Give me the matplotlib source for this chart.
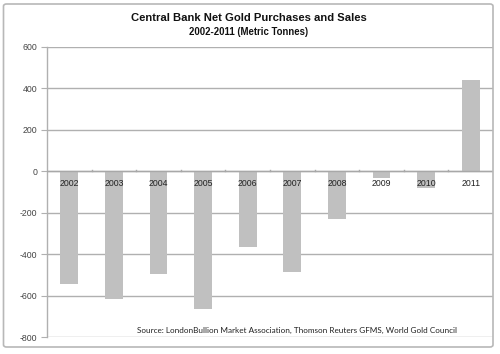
import matplotlib
matplotlib.use("Agg")
import matplotlib.pyplot as plt
from matplotlib.patches import FancyBboxPatch
import numpy as np

years = ["2002", "2003", "2004", "2005", "2006",
         "2007", "2008", "2009", "2010", "2011"]
tonnes = [-545, -617, -495, -662, -365, -484, -232, -33, -80, 440]
yticks = [-800, -600, -400, -200, 0, 200, 400, 600]

W, H = 500, 354
fig = plt.figure(figsize=(5, 3.54), dpi=100)

# outer chart frame
frame = FancyBboxPatch((3.5 / W, 7 / H), 489.5 / W, 343 / H,
                       boxstyle="round,pad=0,rounding_size=0.006",
                       transform=fig.transFigure, fill=False,
                       edgecolor="#b8b8b8", lw=1.2)
fig.patches.append(frame)

ax = fig.add_axes([47 / W, (H - 337.3) / H, (493 - 47) / W, (337.3 - 46.7) / H])
x = np.arange(len(years))
ax.bar(x, tonnes, width=0.4, color="#c0c0c0", zorder=2)
ax.set_xlim(-0.5, len(years) - 0.5)
ax.set_ylim(-800, 600)
ax.set_yticks(yticks)
ax.set_yticklabels([str(v) for v in yticks], fontsize=6.3, color="#444444",
                   family="Liberation Sans")
ax.tick_params(axis="y", length=4, color="#b0b0b0", pad=3)
ax.yaxis.grid(True, color="#b0b0b0", lw=1.0, zorder=1)
ax.set_xticks([])
for s in ["top", "right", "bottom"]:
    ax.spines[s].set_visible(False)
ax.spines["left"].set_color("#b0b0b0")
ax.spines["left"].set_linewidth(1.0)

# category axis at zero
ax.axhline(0, color="#a8a8a8", lw=1.0, zorder=3)
for b in np.arange(0.5, len(years) - 0.5, 1):
    ax.plot([b, b], [0, 8], color="#a8a8a8", lw=1.0, zorder=3)
for xi, yr in zip(x, years):
    ax.text(xi, -58, yr, ha="center", va="center", fontsize=6.3,
            color="#222222", family="Liberation Sans", zorder=4)

fig.text(249 / W, 1 - 18 / H, "Central Bank Net Gold Purchases and Sales",
         ha="center", va="center", fontsize=8.1, fontweight="bold",
         family="Liberation Sans", color="#111111")
fig.text(249 / W, 1 - 32 / H, "2002-2011 (Metric Tonnes)",
         ha="center", va="center", fontsize=6.9, fontweight="bold",
         family="Liberation Sans", color="#111111")
fig.text(297 / W, 1 - 330 / H,
         "Source: LondonBullion Market Association, Thomson Reuters GFMS, World Gold Council",
         ha="center", va="center", fontsize=5.9, family="Lato", color="#222222")

fig.savefig("out.png", dpi=100, facecolor="white")
